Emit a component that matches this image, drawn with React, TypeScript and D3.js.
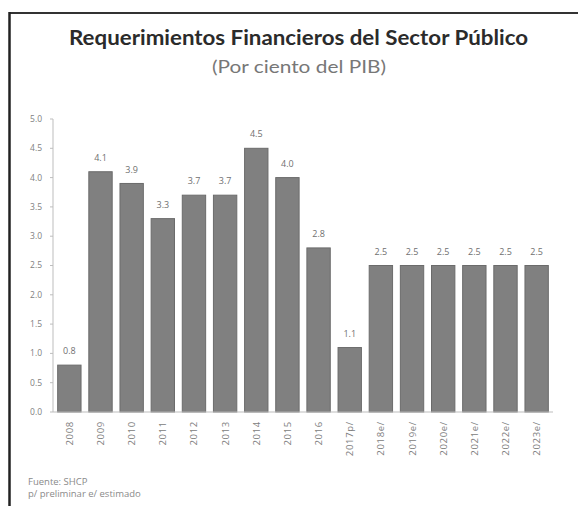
import React from "react";
import * as d3 from "d3";

const categories = ["2008","2009","2010","2011","2012","2013","2014","2015","2016","2017p/","2018e/","2019e/","2020e/","2021e/","2022e/","2023e/"];
const values = [0.8,4.1,3.9,3.3,3.7,3.7,4.5,4.0,2.8,1.1,2.5,2.5,2.5,2.5,2.5,2.5];
const yTicks = [0,0.5,1,1.5,2,2.5,3,3.5,4,4.5,5];
const title = "Requerimientos Financieros del Sector Público";
const subtitle = "(Por ciento del PIB)";
const notes = ["Fuente: SHCP", "p/ preliminar e/ estimado"];

export default function App() {
  const W = 578, H = 506;
  const x0 = 53, x1 = 553, yTop = 119, yBot = 412;
  const x = d3.scaleBand<string>().domain(categories).range([x0, x1]).paddingInner(0.25).paddingOuter(0.15);
  const y = d3.scaleLinear().domain([0, 5]).range([yBot, yTop]);
  const fmt = d3.format(".1f");
  const font = "'Open Sans', 'Noto Sans', sans-serif";
  const titleFont = "Lato, 'Open Sans', sans-serif";
  return (
    <svg width={W} height={H} style={{ position: "absolute", left: 0, top: 0, background: "#fff" }} fontFamily={font}>
      <rect x={0} y={0} width={W} height={H} fill="#fff" />
      {/* frame */}
      <line x1={9} x2={W} y1={13} y2={13} stroke="#333" strokeWidth={2} />
      <line x1={9.5} x2={9.5} y1={12} y2={H} stroke="#222" strokeWidth={2.5} />
      <text x={298.5} y={45} textAnchor="middle" fontFamily={titleFont} fontSize={20} fontWeight="bold" fill="#2b2b2b" textLength={459} lengthAdjust="spacingAndGlyphs">{title}</text>
      <text x={299} y={73} textAnchor="middle" fontFamily={titleFont} fontSize={16.5} fill="#777" textLength={174} lengthAdjust="spacingAndGlyphs">{subtitle}</text>
      {/* y axis */}
      <line x1={x0} x2={x0} y1={yTop} y2={yBot} stroke="#bdbdbd" />
      {yTicks.map((t) => (
        <g key={t}>
          <line x1={x0 - 3} x2={x0} y1={y(t)} y2={y(t)} stroke="#bdbdbd" />
          <text x={42} y={y(t)} dy="0.35em" textAnchor="end" fontSize={8.5} fill="#808080">{fmt(t)}</text>
        </g>
      ))}
      {/* bars */}
      {categories.map((c, i) => (
        <g key={c}>
          <rect x={x(c)} y={y(values[i])} width={x.bandwidth()} height={yBot - y(values[i])} fill="#808080" stroke="#6b6b6b" strokeWidth={1} />
          <text x={(x(c) as number) + x.bandwidth() / 2} y={y(values[i]) - 14} dy="0.35em" textAnchor="middle" fontSize={9} fill="#707070">{fmt(values[i])}</text>
          <text transform={`translate(${(x(c) as number) + x.bandwidth() / 2 + 3.5},${yBot + 9}) rotate(-90)`} textAnchor="end" fontSize={9.5} fill="#808080" letterSpacing={0.7}>{c}</text>
        </g>
      ))}
      <line x1={x0} x2={x1} y1={yBot} y2={yBot} stroke="#bdbdbd" />
      {notes.map((n, i) => (
        <text key={n} x={28} y={485 + i * 12} fontSize={9.5} fill="#8a8a8a">{n}</text>
      ))}
    </svg>
  );
}
